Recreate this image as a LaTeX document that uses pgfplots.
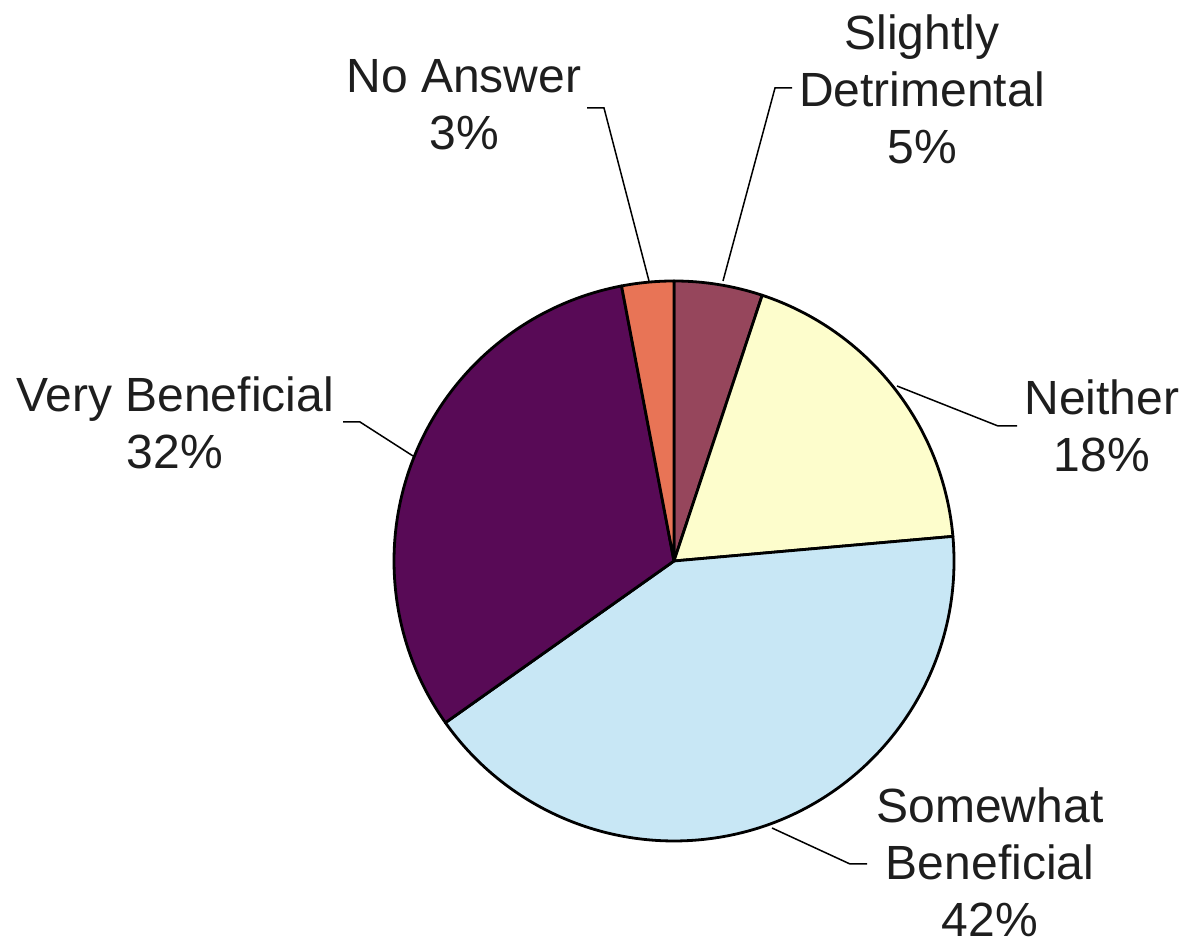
\documentclass[border=0pt]{standalone}
\usepackage{pgfplots}
\pgfplotsset{compat=1.18}
\usepackage{fontspec}
\setmainfont{Liberation Sans}
\definecolor{cDet}{RGB}{150,70,92}
\definecolor{cNei}{RGB}{253,253,204}
\definecolor{cSom}{RGB}{200,231,245}
\definecolor{cVer}{RGB}{88,10,86}
\definecolor{cNoA}{RGB}{232,116,86}
\definecolor{txt}{RGB}{30,30,30}
\tikzset{lbl/.style={font=\fontsize{24}{28}\selectfont, text=txt, inner sep=0pt, anchor=base}}
% slice shares (percent), clockwise from 12 o'clock
\pgfmathsetmacro\vDet{5.1}
\pgfmathsetmacro\vNei{18.5}
\pgfmathsetmacro\vSom{41.6}
\pgfmathsetmacro\vVer{31.8}
\pgfmathsetmacro\vNoA{3.0}
\pgfmathsetmacro\aA{90}
\pgfmathsetmacro\aB{\aA-3.6*\vDet}
\pgfmathsetmacro\aC{\aB-3.6*\vNei}
\pgfmathsetmacro\aD{\aC-3.6*\vSom}
\pgfmathsetmacro\aE{\aD-3.6*\vVer}
\pgfmathsetmacro\aF{\aE-3.6*\vNoA}
\begin{document}
\begin{tikzpicture}
\begin{axis}[hide axis, x=0.5pt, y=0.5pt, xmin=0, xmax=1190, ymin=0, ymax=945,
  clip=false, scale only axis]
\path (axis cs:0,0) rectangle (axis cs:1190,945);
\filldraw[fill=cDet, draw=black, line width=1.4pt, line join=round] (axis cs:674,384) -- ++(\aA:140pt) arc[start angle=\aA, end angle=\aB, radius=140pt] -- cycle;
\filldraw[fill=cNei, draw=black, line width=1.4pt, line join=round] (axis cs:674,384) -- ++(\aB:140pt) arc[start angle=\aB, end angle=\aC, radius=140pt] -- cycle;
\filldraw[fill=cSom, draw=black, line width=1.4pt, line join=round] (axis cs:674,384) -- ++(\aC:140pt) arc[start angle=\aC, end angle=\aD, radius=140pt] -- cycle;
\filldraw[fill=cVer, draw=black, line width=1.4pt, line join=round] (axis cs:674,384) -- ++(\aD:140pt) arc[start angle=\aD, end angle=\aE, radius=140pt] -- cycle;
\filldraw[fill=cNoA, draw=black, line width=1.4pt, line join=round] (axis cs:674,384) -- ++(\aE:140pt) arc[start angle=\aE, end angle=\aF, radius=140pt] -- cycle;
% leader lines
\draw[line width=0.75pt] (axis cs:587,837) -- (axis cs:604,837) -- (axis cs:649,664);
\draw[line width=0.75pt] (axis cs:723,664) -- (axis cs:775,857) -- (axis cs:792,857);
\draw[line width=0.75pt] (axis cs:897,559) -- (axis cs:998,519) -- (axis cs:1017,519);
\draw[line width=0.75pt] (axis cs:772,117) -- (axis cs:850,81) -- (axis cs:867,81);
\draw[line width=0.75pt] (axis cs:343,523) -- (axis cs:360,523) -- (axis cs:413,489);
% labels
\node[lbl] at (axis cs:464,852) {No Answer};
\node[lbl] at (axis cs:464,795) {3\%};
\node[lbl] at (axis cs:922,895) {Slightly};
\node[lbl] at (axis cs:922,838) {Detrimental};
\node[lbl] at (axis cs:922,781) {5\%};
\node[lbl] at (axis cs:1102,530) {Neither};
\node[lbl] at (axis cs:1102,473) {18\%};
\node[lbl] at (axis cs:990,122) {Somewhat};
\node[lbl] at (axis cs:990,65) {Beneficial};
\node[lbl] at (axis cs:990,8) {42\%};
\node[lbl] at (axis cs:175,533) {Very Beneficial};
\node[lbl] at (axis cs:175,476) {32\%};
\end{axis}
\end{tikzpicture}
\end{document}
